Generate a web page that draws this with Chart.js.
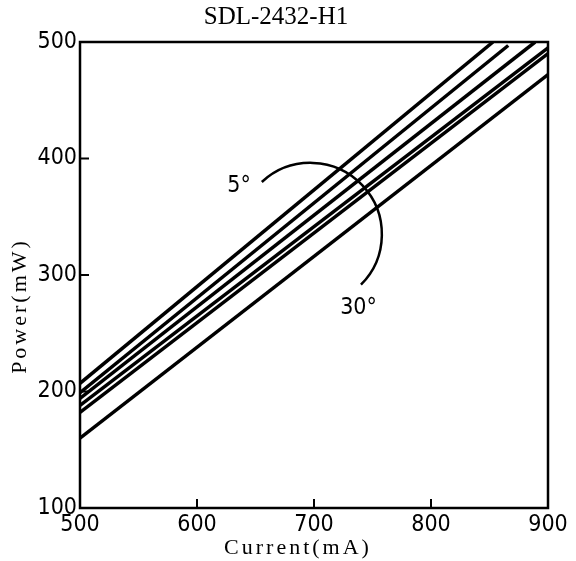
<!DOCTYPE html>
<html>
<head>
<meta charset="utf-8">
<script src="https://cdn.jsdelivr.net/npm/chart.js@4.4.1/dist/chart.umd.min.js"></script>
<style>
    html, body { margin: 0; padding: 0; background: #ffffff; }
    #chartBox { width: 576px; height: 561px; position: relative; }
</style>
</head>
<body>
<div id="chartBox"><canvas id="powerChart"></canvas></div>
<script>
// angle of each curve, top line first
const angleLabels = ["5°", "10°", "15°", "20°", "25°", "30°"];
const startCurrent = [500, 500, 500, 500, 500, 500];
const startPower = [207, 199, 194, 188, 182, 160];
const endCurrent = [853, 866, 889, 900, 900, 900];
const endPower = [500, 497, 500, 495, 490, 472];

const currentTicks = [500, 600, 700, 800, 900];
const powerTicks = [100, 200, 300, 400, 500];
const innerTicksX = [600, 700, 800];
const innerTicksY = [200, 300, 400];

const xTitle = "Current(mA)";
const yTitle = "Power(mW)";

// arc note, in data units: center, radius (mA), start/end angle (deg)
const arcCenter = [697, 335];
const arcRadius = 61;
const arcAngles = [-133, 45];
const noteFirst = { text: "5°", at: [636, 376] };
const noteLast = { text: "30°", at: [738, 272] };

const tickFont = { family: '"Liberation Sans Narrow", "DejaVu Sans Condensed", sans-serif', size: 23 };
const serifFont = "Liberation Serif";

const frameAndNotes = {
    id: "frameAndNotes",
    afterDatasetsDraw(chart) {
        const { ctx, chartArea: a, scales: { x, y } } = chart;
        ctx.save();
        ctx.strokeStyle = "#000";
        ctx.lineWidth = 2.5;
        ctx.strokeRect(a.left, a.top, a.width, a.height);

        ctx.lineWidth = 2;
        innerTicksX.forEach(v => {
            const px = x.getPixelForValue(v);
            ctx.beginPath();
            ctx.moveTo(px, a.bottom);
            ctx.lineTo(px, a.bottom - 9);
            ctx.stroke();
        });
        innerTicksY.forEach(v => {
            const py = y.getPixelForValue(v);
            ctx.beginPath();
            ctx.moveTo(a.left, py);
            ctx.lineTo(a.left + 9, py);
            ctx.stroke();
        });

        const cx = x.getPixelForValue(arcCenter[0]);
        const cy = y.getPixelForValue(arcCenter[1]);
        const r = x.getPixelForValue(arcCenter[0] + arcRadius) - cx;
        ctx.lineWidth = 2.5;
        ctx.beginPath();
        ctx.arc(cx, cy, r, arcAngles[0] * Math.PI / 180, arcAngles[1] * Math.PI / 180);
        ctx.stroke();

        ctx.fillStyle = "#000";
        ctx.font = `${tickFont.size}px ${tickFont.family}`;
        ctx.textAlign = "center";
        ctx.textBaseline = "middle";
        [noteFirst, noteLast].forEach(n => {
            ctx.fillText(n.text, x.getPixelForValue(n.at[0]), y.getPixelForValue(n.at[1]));
        });

        // axis titles, spaced out like the printed figure
        ctx.font = `22px ${serifFont}`;
        ctx.letterSpacing = "3px";
        ctx.fillText(xTitle, (a.left + a.right) / 2 - 16, a.bottom + 40);
        ctx.translate(a.left - 60, (a.top + a.bottom) / 2 + 31);
        ctx.rotate(-Math.PI / 2);
        ctx.fillText(yTitle, 0, 0);
        ctx.restore();
    }
};

const datasets = angleLabels.map((label, i) => ({
    label: label,
    data: [
        { x: startCurrent[i], y: startPower[i] },
        { x: endCurrent[i], y: endPower[i] }
    ],
    borderColor: "#000",
    borderWidth: 3.5,
    pointRadius: 0,
    fill: false
}));

new Chart(document.getElementById("powerChart"), {
    type: "line",
    data: { datasets: datasets },
    plugins: [frameAndNotes],
    options: {
        responsive: true,
        maintainAspectRatio: false,
        animation: false,
        layout: { padding: { left: 4, right: 28, top: 0, bottom: 2 } },
        plugins: {
            legend: { display: false },
            tooltip: { enabled: false },
            title: {
                display: true,
                text: "SDL-2432-H1",
                color: "#000",
                font: { family: serifFont, size: 25, weight: "normal" },
                padding: { top: 2, bottom: 10 }
            }
        },
        scales: {
            x: {
                type: "linear",
                min: 500,
                max: 900,
                grid: { display: false },
                border: { display: false },
                afterBuildTicks: scale => { scale.ticks = currentTicks.map(v => ({ value: v })); },
                afterFit: scale => { scale.height = 51; },
                ticks: { color: "#000", font: tickFont, padding: -5, maxRotation: 0 }
            },
            y: {
                type: "linear",
                min: 100,
                max: 500,
                grid: { display: false },
                border: { display: false },
                afterBuildTicks: scale => { scale.ticks = powerTicks.map(v => ({ value: v })); },
                afterFit: scale => { scale.width = 76; },
                ticks: { color: "#000", font: tickFont, padding: -5 }
            }
        }
    }
});
</script>
</body>
</html>
